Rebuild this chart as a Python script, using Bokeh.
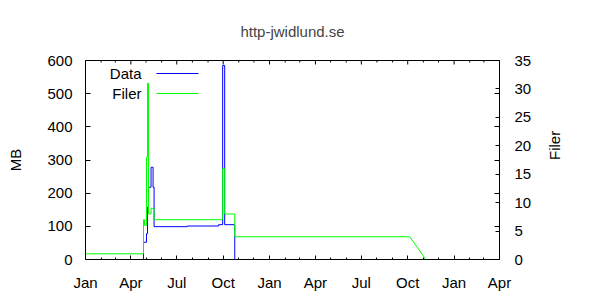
from datetime import datetime
import math
from bokeh.plotting import figure
from bokeh.models import (Range1d, LinearAxis, DatetimeAxis, FixedTicker,
                          DatetimeTickFormatter, Label, Arrow)
from bokeh.embed import file_html
from bokeh.resources import INLINE

# ---------------- data ----------------
title_text = "http-jwidlund.se"
y_label = "MB"
y2_label = "Filer"
series_names = ["Data", "Filer"]

data_dates = ["2007-04-26", "2007-04-26", "2007-05-02", "2007-05-04", "2007-05-06",
              "2007-05-11", "2007-05-15", "2007-05-17", "2007-07-22", "2007-09-22",
              "2007-09-30", "2007-10-04", "2007-10-24"]
data_mb = [0, 52, 78, 158, 218, 278, 218, 99, 101, 105, 585, 105, 0]

filer_dates = ["2007-01-01", "2007-04-26", "2007-04-28", "2007-05-02", "2007-05-04",
               "2007-05-06", "2007-05-11", "2007-05-17", "2007-09-30", "2007-10-04",
               "2007-10-24", "2008-10-05"]
filer_count = [1, 7, 6, 18, 31, 8, 9, 7, 16, 8, 4, 4]
filer_tail_dates = ["2008-11-06"]
filer_tail_count = [0]

x_start, x_end = "2007-01-01", "2009-04-01"
quarter_ticks = ["2007-01-01", "2007-04-01", "2007-07-01", "2007-10-01",
                 "2008-01-01", "2008-04-01", "2008-07-01", "2008-10-01",
                 "2009-01-01", "2009-04-01"]
y_ticks = [0, 100, 200, 300, 400, 500, 600]
y2_ticks = [0, 5, 10, 15, 20, 25, 30, 35]

# ---------------- helpers ----------------
def d(s):
    return datetime.strptime(s, "%Y-%m-%d")

EPOCH = datetime(1970, 1, 1)
def ms(dt):
    return (dt - EPOCH).total_seconds() * 1000.0

def step_path(xs, ys):
    px, py = [], []
    for i in range(len(xs)):
        if i > 0:
            px.append(xs[i]); py.append(ys[i - 1])
        px.append(xs[i]); py.append(ys[i])
    return px, py

dx, dy = step_path([d(s) for s in data_dates], data_mb)
fx, fy = step_path([d(s) for s in filer_dates], filer_count)
fx += [d(s) for s in filer_tail_dates]
fy += filer_tail_count

FONT = "Liberation Sans"
FS = "15px"
BLUE = "#0000ff"
GREEN = "#00ff00"

Y_MAX = y_ticks[-1]
Y2_MAX = y2_ticks[-1]
p = figure(width=600, height=300, x_axis_type=None, y_axis_location=None,
           x_range=Range1d(d(x_start), d(x_end)), y_range=Range1d(0, Y_MAX),
           output_backend="svg", toolbar_location=None,
           min_border_left=85, min_border_right=101, min_border_top=60, min_border_bottom=41)
p.extra_y_ranges = {"filer": Range1d(0, Y2_MAX)}
p.background_fill_color = "white"
p.border_fill_color = "white"
p.outline_line_color = "black"
p.outline_line_alpha = 1.0
p.outline_line_width = 1
p.xgrid.visible = False
p.ygrid.visible = False

p.title.text = title_text
p.title.align = "center"
p.title.text_font = FONT
p.title.text_font_size = FS
p.title.text_font_style = "normal"
p.title.standoff = 41

# x ticks
qt = [ms(d(s)) for s in quarter_ticks]
month_minor = []
for yy in (2007, 2008, 2009):
    for m in range(1, 13):
        t = ms(datetime(yy, m, 1))
        if qt[0] <= t <= qt[-1] and t not in qt:
            month_minor.append(t)
fmt = DatetimeTickFormatter(microseconds="%b", milliseconds="%b", seconds="%b", minsec="%b",
                            minutes="%b", hourmin="%b", hours="%b", days="%b",
                            months="%b", years="%b")

def style_axis(ax):
    ax.axis_line_color = None
    ax.major_tick_line_color = "black"
    ax.minor_tick_line_color = "black"
    ax.major_tick_out = 0
    ax.minor_tick_out = 0
    ax.major_label_text_font = FONT
    ax.major_label_text_font_size = FS
    ax.major_label_text_color = "black"
    ax.axis_label_text_font = FONT
    ax.axis_label_text_font_size = FS
    ax.axis_label_text_font_style = "normal"
    ax.axis_label_text_color = "black"

xb = DatetimeAxis(ticker=FixedTicker(ticks=qt, minor_ticks=month_minor), formatter=fmt)
style_axis(xb)
xb.major_tick_in = 4
xb.minor_tick_in = 2
xb.major_label_standoff = 14
p.add_layout(xb, "below")

# mirrored x ticks on the top border (tick length converted from px to data units)
px_per_mb = 199.0 / Y_MAX
p.segment(x0=qt, y0=[Y_MAX] * len(qt), x1=qt, y1=[Y_MAX - 4 / px_per_mb] * len(qt),
          line_color="black", line_width=1)
p.segment(x0=month_minor, y0=[Y_MAX] * len(month_minor), x1=month_minor,
          y1=[Y_MAX - 2 / px_per_mb] * len(month_minor), line_color="black", line_width=1)

yl = LinearAxis(ticker=FixedTicker(ticks=y_ticks), axis_label=y_label)
style_axis(yl)
yl.major_tick_in = 5
yl.minor_tick_in = 0
yl.major_label_standoff = 13
yl.axis_label_standoff = 20
p.add_layout(yl, "left")

# right axis: its own ticks plus the mirrored left ticks as minor ticks
mirrored = [t * Y2_MAX / float(Y_MAX) for t in y_ticks]
yr = LinearAxis(y_range_name="filer", ticker=FixedTicker(ticks=y2_ticks, minor_ticks=mirrored))
style_axis(yr)
yr.major_tick_in = 4
yr.minor_tick_in = 5
yr.major_label_standoff = 15
p.add_layout(yr, "right")

# right axis title (reads bottom-to-top); carried by a tick-less axis whose
# bounds put the start of the text where the reference has it
yr_lab = LinearAxis(y_range_name="filer", ticker=FixedTicker(ticks=[]),
                    axis_label=y2_label, bounds=(0, 0.834 * Y2_MAX))
style_axis(yr_lab)
yr_lab.major_tick_in = 0
yr_lab.minor_tick_in = 0
yr_lab.major_label_standoff = 0
yr_lab.axis_label_standoff = 20
yr_lab.axis_label_orientation = math.pi / 2
p.add_layout(yr_lab, "right")

# series
p.line(dx, dy, line_color=BLUE, line_width=1)
p.line(fx, fy, line_color=GREEN, line_width=1, y_range_name="filer")

# legend (gnuplot style: label left, sample right)
for i, (name, col) in enumerate(zip(series_names, [BLUE, GREEN])):
    ly = 186 - 20 * i
    p.add_layout(Label(x=56, y=ly, x_units="screen", y_units="screen", text=name,
                       text_align="right", text_baseline="middle",
                       text_font=FONT, text_font_size=FS, text_color="black"))
    p.add_layout(Arrow(end=None, x_start=71, y_start=ly, x_end=113, y_end=ly,
                       start_units="screen", end_units="screen",
                       line_color=col, line_width=1))

open("out.html", "w").write(file_html(p, INLINE))
